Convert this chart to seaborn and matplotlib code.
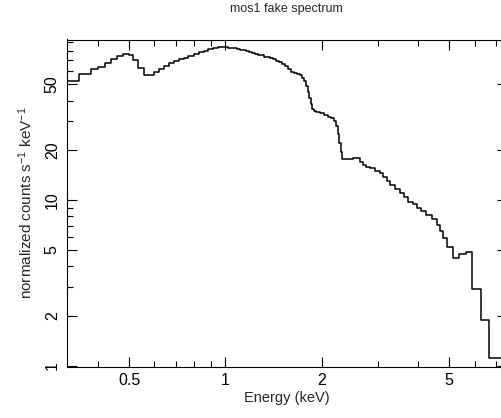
import numpy as np
import pandas as pd
import matplotlib
matplotlib.use("Agg")
import matplotlib.pyplot as plt
from matplotlib.ticker import FixedLocator, FixedFormatter, NullFormatter
import seaborn as sns

# ---- data (bin edges in keV, counts per bin) ----
bin_edges = [0.32, 0.35, 0.38, 0.40, 0.42, 0.44, 0.46, 0.48, 0.50, 0.515, 0.535, 0.555,
             0.60, 0.62, 0.645, 0.665, 0.69, 0.715, 0.74, 0.765, 0.795, 0.825, 0.855,
             0.885, 0.915, 0.95, 1.0,
             1.02, 1.042, 1.065, 1.088, 1.111, 1.136, 1.160, 1.186, 1.212, 1.238,
             1.265, 1.293, 1.321, 1.350, 1.379, 1.409, 1.440, 1.471, 1.503, 1.536,
             1.570, 1.604, 1.639, 1.675, 1.711, 1.736, 1.761, 1.787, 1.806, 1.825,
             1.845, 1.865, 1.885, 1.920, 1.975, 2.033, 2.092, 2.138, 2.185, 2.216,
             2.240, 2.265, 2.289, 2.314,
             2.510, 2.634, 2.691, 2.750, 2.830, 2.934, 3.041, 3.107, 3.198, 3.268,
             3.387, 3.511, 3.614, 3.719, 3.855, 3.967, 4.083, 4.232, 4.403, 4.564,
             4.680, 4.793, 4.932, 5.129, 5.378, 5.643, 5.879, 6.272, 6.671, 8.0]

counts = [52.7, 58.1, 61.8, 64.1, 67.5, 71.3, 74.7, 76.8, 75.4, 70.3, 62.7, 56.9,
          59.3, 61.8, 64.7, 67.2, 69.7, 71.3, 72.6, 74.7, 76.4, 78.3, 79.7, 81.6,
          82.8, 83.7,
          83.9, 83.6, 83.1, 82.5, 81.8, 81.0, 80.3, 79.4, 78.4, 77.5,
          76.7, 75.8, 74.9, 73.8, 72.8, 71.8, 70.8, 69.4, 67.9, 66.3,
          64.3, 61.6, 59.9, 58.7, 57.6, 56.7, 55.1, 52.2, 49.0, 45.1,
          41.5, 38.1, 35.8, 34.6, 33.9, 33.4, 32.7, 32.0, 31.2, 30.1,
          28.1, 25.1, 22.2, 19.6,
          17.74, 17.99, 17.09, 16.32, 15.87, 15.54, 15.01, 14.54, 13.75, 13.12,
          12.36, 11.64, 11.01, 10.41, 9.79, 9.49, 9.03, 8.61, 8.14, 7.67,
          7.08, 6.54, 5.89, 5.24, 4.46, 4.71, 4.88, 2.895, 1.889, 1.108]

x_major = [0.5, 1, 2, 5]
x_major_labels = ["0.5", "1", "2", "5"]
x_minor = [0.4, 0.6, 0.7, 0.8, 0.9, 3, 4, 6, 7, 8]
y_major = [1, 2, 5, 10, 20, 50]
y_major_labels = ["1", "2", "5", "10", "20", "50"]
y_minor = [3, 4, 6, 7, 8, 9, 30, 40, 60, 70, 80, 90]

title = "mos1 fake spectrum"
xlabel = "Energy (keV)"
ylabel = r"normalized counts s$^{-1}$ keV$^{-1}$"

# ---- style ----
sns.set_theme(style="ticks")
plt.rcParams["font.family"] = ["Liberation Sans", "DejaVu Sans"]
plt.rcParams["mathtext.fontset"] = "custom"
plt.rcParams["mathtext.rm"] = "Liberation Sans"
plt.rcParams["mathtext.it"] = "Liberation Sans:italic"
plt.rcParams["mathtext.default"] = "regular"

df = pd.DataFrame({"energy": bin_edges, "rate": counts + [counts[-1]]})

fig = plt.figure(figsize=(5.01, 4.18), dpi=100)
ax = fig.add_axes([66.7 / 501, (418 - 366.5) / 418, (507 - 66.7) / 501, (366.5 - 39.5) / 418])

sns.lineplot(data=df, x="energy", y="rate", ax=ax, drawstyle="steps-post",
             color="black", linewidth=1.1, estimator=None, sort=False)

ax.set_xscale("log")
ax.set_yscale("log")
ax.set_xlim(0.3194, 7.57)
ax.set_ylim(0.989, 93.5)

ax.xaxis.set_major_locator(FixedLocator(x_major))
ax.xaxis.set_major_formatter(FixedFormatter(x_major_labels))
ax.xaxis.set_minor_locator(FixedLocator(x_minor))
ax.xaxis.set_minor_formatter(NullFormatter())
ax.yaxis.set_major_locator(FixedLocator(y_major))
ax.yaxis.set_major_formatter(FixedFormatter(y_major_labels))
ax.yaxis.set_minor_locator(FixedLocator(y_minor))
ax.yaxis.set_minor_formatter(NullFormatter())

ax.tick_params(which="both", direction="in", top=True, right=True, width=0.8,
               colors="black", labelsize=11.5)
ax.tick_params(which="major", length=7)
ax.tick_params(which="minor", length=4)
ax.tick_params(axis="y", labelrotation=90, pad=5)
ax.tick_params(axis="x", pad=5)
for lab in ax.get_yticklabels():
    lab.set_verticalalignment("center")

for sp in ax.spines.values():
    sp.set_linewidth(0.8)
    sp.set_color("black")

ax.set_xlabel(xlabel, fontsize=10.5, labelpad=2)
ax.set_ylabel(ylabel, fontsize=11, labelpad=7)
ax.set_title(title, fontsize=9, pad=20)
ax.grid(False)

fig.savefig("out.png", dpi=100)
